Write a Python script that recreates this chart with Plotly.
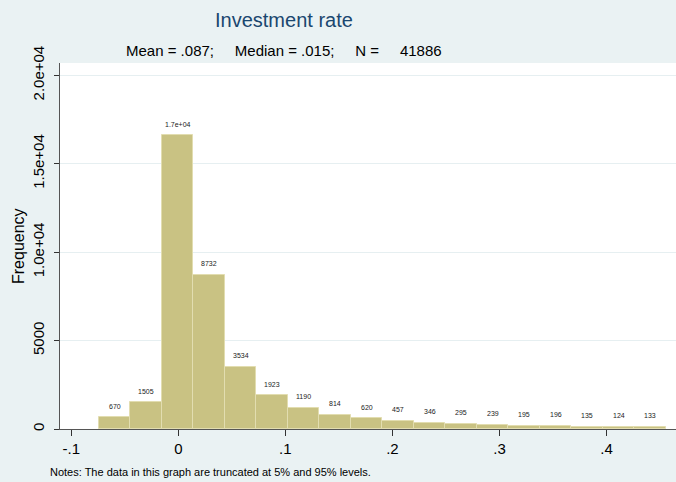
import plotly.graph_objects as go

# ---- data ----
bin_start = -0.0741
bin_width = 0.02942
counts = [670, 1505, 16610, 8732, 3534, 1923, 1190, 814, 620, 457,
          346, 295, 239, 195, 196, 135, 124, 133]
x_ticks = [-0.1, 0.0, 0.1, 0.2, 0.3, 0.4]
x_tick_labels = ["-.1", "0", ".1", ".2", ".3", ".4"]
y_ticks = [0, 5000, 10000, 15000, 20000]
y_tick_labels = ["0", "5000", "1.0e+04", "1.5e+04", "2.0e+04"]

title_text = "Investment rate"
subtitle_text = "Mean = .087;     Median = .015;     N =     41886"
note_text = "Notes: The data in this graph are truncated at 5% and 95% levels."

centers = [bin_start + bin_width * (i + 0.5) for i in range(len(counts))]

def fmt(v):
    return f"{v:.1e}" if v >= 10000 else str(v)

FONT = "Liberation Sans, Arial, sans-serif"
BG = "#EAF2F3"

fig = go.Figure()
fig.add_trace(go.Bar(
    x=centers, y=counts, width=bin_width,
    marker=dict(color="#C9C283", line=dict(color="#E2DDB0", width=1)),
    hoverinfo="x+y", showlegend=False,
))

annotations = []
for cx, v in zip(centers, counts):
    annotations.append(dict(
        x=cx, y=v, xref="x", yref="y", text=fmt(v), showarrow=False,
        yshift=11, yanchor="middle", font=dict(size=7, color="#222222", family=FONT),
    ))

annotations += [
    dict(text=title_text, xref="paper", yref="paper", x=0.3644, y=1.117,
         xanchor="center", yanchor="middle", showarrow=False,
         font=dict(size=20, color="#1A476F", family=FONT)),
    dict(text=subtitle_text, xref="paper", yref="paper", x=0.3644, y=1.0354,
         xanchor="center", yanchor="middle", showarrow=False,
         font=dict(size=15, color="#000000", family=FONT)),
    dict(text="Frequency", xref="paper", yref="paper", x=-0.0682, y=0.5,
         xanchor="center", yanchor="middle", textangle=-90, showarrow=False,
         font=dict(size=16, color="#000000", family=FONT)),
    dict(text=note_text, xref="paper", yref="paper", x=-0.0195, y=-0.1163,
         xanchor="left", yanchor="middle", showarrow=False,
         font=dict(size=11, color="#000000", family=FONT)),
]

fig.update_layout(
    width=676, height=482,
    margin=dict(l=60, r=0, t=63, b=53, pad=0),
    paper_bgcolor=BG, plot_bgcolor="#FFFFFF",
    bargap=0,
    annotations=annotations,
    font=dict(family=FONT, color="#000000"),
    xaxis=dict(
        range=[-0.1105, 0.4649], tickvals=x_ticks, ticktext=x_tick_labels,
        ticks="outside", ticklen=6, tickcolor="#333333", tickwidth=1,
        showline=True, linecolor="#555555", linewidth=1,
        showgrid=False, zeroline=False, tickfont=dict(size=15),
    ),
    yaxis=dict(
        range=[0, 20700], tickvals=y_ticks, ticktext=y_tick_labels,
        tickangle=-90, ticks="outside", ticklen=5, tickcolor="#333333",
        showline=True, linecolor="#555555", linewidth=1,
        showgrid=True, gridcolor="#E6EFF1", gridwidth=1,
        zeroline=False, tickfont=dict(size=15), ticklabelstandoff=4,
    ),
)

fig.write_html(
    "out.html",
    config={"displayModeBar": False},
    post_script="document.body.style.margin='0';document.body.style.overflow='hidden';",
)
